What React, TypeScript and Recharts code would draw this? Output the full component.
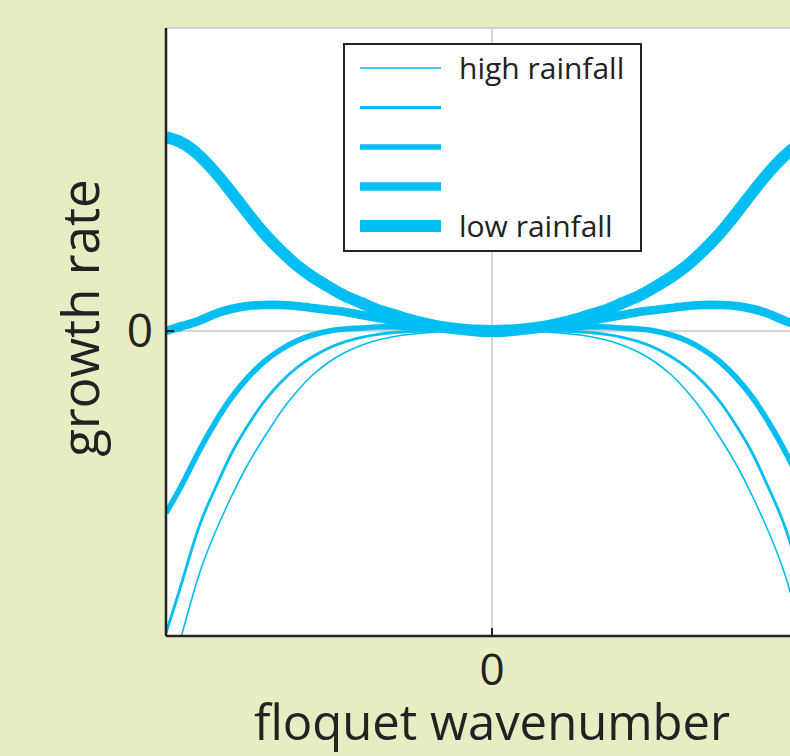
import React from 'react';
import { LineChart, Line, XAxis, YAxis, CartesianGrid, Legend } from 'recharts';

// floquet wavenumber, normalised to the plotted window
const wavenumber = [
  -1, -0.95, -0.9, -0.85, -0.8, -0.75, -0.7, -0.65, -0.6, -0.55, -0.5, -0.45, -0.4, -0.35, -0.3, -0.25, -0.2, -0.15, -0.1, -0.05,
  0, 0.05, 0.1, 0.15, 0.2, 0.25, 0.3, 0.35, 0.4, 0.45, 0.5, 0.55, 0.6, 0.65, 0.7, 0.75, 0.8, 0.85, 0.9, 0.95, 1,
];

// growth rate curves, high rainfall -> low rainfall
const rain1 = [
  -3.6, -3.02, -2.45, -2.02, -1.66, -1.34, -1.07, -0.82, -0.61, -0.44, -0.31, -0.213, -0.142, -0.09, -0.055, -0.032, -0.017, -0.008, -0.003, -0.001,
  0, -0.001, -0.003, -0.008, -0.017, -0.032, -0.055, -0.09, -0.142, -0.213, -0.31, -0.44, -0.61, -0.82, -1.07, -1.34, -1.66, -2.02, -2.45, -3.02, -3.6,
];
const rain2 = [
  -3.02, -2.5, -1.97, -1.58, -1.23, -0.95, -0.71, -0.52, -0.37, -0.257, -0.17, -0.107, -0.063, -0.034, -0.015, -0.005, 0, 0.001, 0.001, 0,
  0, 0, 0.001, 0.001, 0, -0.005, -0.015, -0.034, -0.063, -0.107, -0.17, -0.257, -0.37, -0.52, -0.71, -0.95, -1.23, -1.58, -1.97, -2.5, -3.02,
];
const rain3 = [
  -1.82, -1.53, -1.21, -0.92, -0.67, -0.47, -0.31, -0.19, -0.1, -0.04, 0, 0.02, 0.03, 0.04, 0.04, 0.035, 0.03, 0.02, 0.01, 0.003,
  0, 0.003, 0.01, 0.02, 0.03, 0.035, 0.04, 0.04, 0.03, 0.02, 0, -0.04, -0.1, -0.19, -0.31, -0.47, -0.67, -0.92, -1.21, -1.53, -1.82,
];
const rain4 = [
  0, 0.05, 0.1, 0.17, 0.22, 0.25, 0.26, 0.26, 0.25, 0.23, 0.21, 0.19, 0.16, 0.13, 0.1, 0.075, 0.05, 0.03, 0.015, 0.004,
  0, 0.004, 0.015, 0.03, 0.05, 0.075, 0.1, 0.13, 0.16, 0.19, 0.21, 0.23, 0.25, 0.26, 0.26, 0.25, 0.22, 0.17, 0.1, 0.05, 0,
];
const rain5 = [
  1.94, 1.88, 1.76, 1.59, 1.39, 1.18, 0.98, 0.81, 0.66, 0.54, 0.44, 0.35, 0.28, 0.21, 0.16, 0.11, 0.07, 0.04, 0.02, 0.005,
  0, 0.005, 0.02, 0.04, 0.07, 0.11, 0.16, 0.21, 0.28, 0.35, 0.44, 0.54, 0.66, 0.81, 0.98, 1.18, 1.39, 1.59, 1.76, 1.88, 1.94,
];

const seriesKeys = ['r1', 'r2', 'r3', 'r4', 'r5'];
const legendLabels = ['high rainfall', '', '', '', 'low rainfall'];
const strokeWidths = [1.6, 2.8, 5.6, 8.6, 11.8];

const xTicks = [0];
const yTicks = [0];

const CYAN = '#00bdf2';
const INK = '#222222';
const FONT = '"Open Sans", "Noto Sans", sans-serif';

const data = wavenumber.map((k, i) => ({
  k,
  r1: rain1[i],
  r2: rain2[i],
  r3: rain3[i],
  r4: rain4[i],
  r5: rain5[i],
}));

const BottomTick = ({ x, y, payload }: any) => (
  <g>
    <line x1={x} x2={x} y1={y} y2={y - 8} stroke={INK} strokeWidth={2} />
    <text x={x} y={y + 49} textAnchor="middle" fontSize={44} fontFamily={FONT} fill={INK}>
      {payload.value}
    </text>
  </g>
);

const TopTick = ({ x, y }: any) => <line x1={x} x2={x} y1={y} y2={y + 8} stroke={INK} strokeWidth={2} />;

const LeftTick = ({ x, y, payload }: any) => (
  <g>
    <line x1={x} x2={x + 8} y1={y} y2={y} stroke={INK} strokeWidth={2} />
    <text x={x - 26} y={y + 16} textAnchor="middle" fontSize={46} fontFamily={FONT} fill={INK}>
      {payload.value}
    </text>
  </g>
);

const YLabel = ({ viewBox }: any) => {
  const cx = viewBox.x + 99;
  const cy = viewBox.y + viewBox.height / 2 - 14;
  return (
    <text
      transform={`translate(${cx}, ${cy}) rotate(-90)`}
      textAnchor="middle"
      fontSize={51}
      fontFamily={FONT}
      fill={INK}
    >
      growth rate
    </text>
  );
};

const LegendBox = () => (
  <svg width={299} height={209} style={{ display: 'block' }}>
    <rect x={1} y={1} width={297} height={207} fill="#fff" stroke={INK} strokeWidth={2} />
    {seriesKeys.map((key, i) => {
      const cy = 25 + i * 39.5;
      return (
        <g key={key}>
          <line x1={17} x2={98} y1={cy} y2={cy} stroke={CYAN} strokeWidth={strokeWidths[i]} />
          {legendLabels[i] && (
            <text x={116} y={cy + 11} fontSize={30} fontFamily={FONT} fill={INK}>
              {legendLabels[i]}
            </text>
          )}
        </g>
      );
    })}
  </svg>
);

export default function App() {
  return (
    <div
      style={{
        position: 'absolute',
        left: 0,
        top: 0,
        width: 790,
        height: 756,
        overflow: 'hidden',
        background: '#e8ecc2',
      }}
    >
      <LineChart width={830} height={756} data={data} margin={{ top: 28, right: 12, bottom: 0, left: 0 }}>
        <CartesianGrid fill="#ffffff" stroke="#c8c8c8" strokeWidth={1.5} />
        <XAxis
          dataKey="k"
          type="number"
          domain={[-1, 1]}
          ticks={xTicks}
          allowDataOverflow
          height={120}
          tickSize={0}
          tickMargin={0}
          tick={<BottomTick />}
          tickLine={false}
          axisLine={{ stroke: INK, strokeWidth: 2.5 }}
          label={{
            value: 'floquet wavenumber',
            position: 'insideBottom',
            offset: 16,
            fontSize: 49,
            fontFamily: FONT,
            fill: INK,
          }}
        />
        <XAxis
          xAxisId="top"
          orientation="top"
          dataKey="k"
          type="number"
          domain={[-1, 1]}
          ticks={xTicks}
          allowDataOverflow
          height={0}
          tickSize={0}
          tickMargin={0}
          tick={<TopTick />}
          tickLine={false}
          axisLine={{ stroke: INK, strokeWidth: 2.5 }}
        />
        <YAxis
          type="number"
          domain={[-3.05, 3.03]}
          ticks={yTicks}
          allowDataOverflow
          width={166}
          tickSize={0}
          tickMargin={0}
          tick={<LeftTick />}
          tickLine={false}
          axisLine={{ stroke: INK, strokeWidth: 2.5 }}
          label={<YLabel />}
        />
        <YAxis
          yAxisId="right"
          orientation="right"
          type="number"
          domain={[-3.05, 3.03]}
          ticks={yTicks}
          allowDataOverflow
          width={0}
          tick={false}
          tickLine={false}
          axisLine={{ stroke: INK, strokeWidth: 2.5 }}
        />
        <Legend
          layout="horizontal"
          verticalAlign="middle"
          align="center"
          wrapperStyle={{ position: 'absolute', left: 343, top: 43, width: 299, height: 209 }}
          content={<LegendBox />}
        />
        {seriesKeys.map((key, i) => (
          <Line
            key={key}
            dataKey={key}
            name={legendLabels[i] || key}
            type="natural"
            stroke={CYAN}
            strokeWidth={strokeWidths[i]}
            dot={false}
            activeDot={false}
            isAnimationActive={false}
          />
        ))}
      </LineChart>
    </div>
  );
}
